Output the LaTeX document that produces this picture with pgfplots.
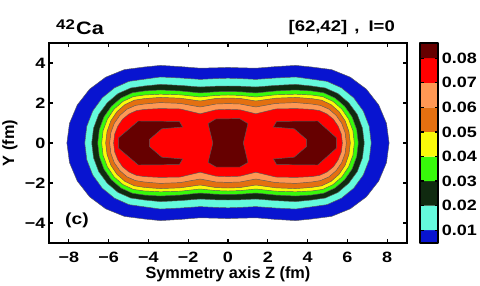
\documentclass[border=0pt]{standalone}
\usepackage{pgfplots}
\pgfplotsset{compat=1.18}
\usepackage{fontspec}
\setmainfont{Liberation Sans}[FakeStretch=1.2]
\newfontfamily\labelfont{Liberation Sans}
\definecolor{cblue}{RGB}{8,20,208}
\definecolor{ccyan}{RGB}{100,250,220}
\definecolor{cdkgreen}{RGB}{16,42,16}
\definecolor{cgreen}{RGB}{55,250,10}
\definecolor{cyellow}{RGB}{250,250,10}
\definecolor{corange}{RGB}{228,112,16}
\definecolor{clorange}{RGB}{255,152,84}
\definecolor{cred}{RGB}{255,0,0}
\definecolor{cdkred}{RGB}{102,0,0}
\begin{document}
\begin{tikzpicture}
\useasboundingbox (0bp,0bp) rectangle (480bp,286bp);
\begin{axis}[
  at={(49bp,43bp)}, anchor=south west, scale only axis,
  width=358bp, height=200bp,
  xmin=-9, xmax=9, ymin=-5, ymax=5,
  axis on top, no markers,
  xtick={-8,-6,-4,-2,0,2,4,6,8},
  xticklabels={−8,−6,−4,−2,0,2,4,6,8},
  ytick={-4,-2,0,2,4},
  yticklabels={−4,−2,0,2,4},
  tick align=inside,
  major tick length=4bp,
  tick style={black, line width=1.1bp},
  axis line style={line width=1.8bp},
  tick label style={font=\fontsize{15bp}{18bp}\selectfont\bfseries, inner sep=0pt},
  xticklabel style={yshift=-9.3bp},
  yticklabel style={xshift=-3.3bp},
  xlabel={Symmetry axis Z (fm)},
  ylabel={Y (fm)},
  label style={font=\labelfont\fontsize{16.3bp}{19bp}\selectfont\bfseries, inner sep=0pt},
  xlabel style={at={(axis description cs:0.5,-0.1775)}, anchor=base},
  ylabel style={at={(axis description cs:-0.109,0.5)}, anchor=center},
  every axis plot/.append style={draw=black!65, line width=0.45bp},
]
% level 1 (outer edge of blue)
\addplot[fill=cblue] coordinates {
(-8.10,0) (-7.97,0.98) (-7.58,1.90) (-6.96,2.69) (-6.15,3.29) (-5.21,3.67) (-4.20,3.80) (-3.40,3.88) (-2.40,3.82) (-1.40,3.74) (-0.60,3.76) (0,3.78)
(0.60,3.76) (1.40,3.74) (2.40,3.82) (3.40,3.88) (4.20,3.80) (5.21,3.67) (6.15,3.29) (6.96,2.69) (7.58,1.90) (7.97,0.98) (8.10,0)
(7.97,-0.98) (7.58,-1.90) (6.96,-2.69) (6.15,-3.29) (5.21,-3.67) (4.20,-3.80) (3.40,-3.88) (2.40,-3.82) (1.40,-3.74) (0.60,-3.76) (0,-3.78)
(-0.60,-3.76) (-1.40,-3.74) (-2.40,-3.82) (-3.40,-3.88) (-4.20,-3.80) (-5.21,-3.67) (-6.15,-3.29) (-6.96,-2.69) (-7.58,-1.90) (-7.97,-0.98) (-8.10,0)};
% level 2
\addplot[fill=ccyan] coordinates {
(-7.20,0) (-7.10,0.83) (-6.80,1.60) (-6.32,2.26) (-5.70,2.76) (-4.98,3.08) (-4.20,3.19) (-3.40,3.30) (-2.40,3.25) (-1.40,3.18) (-0.60,3.22) (0,3.24)
(0.60,3.22) (1.40,3.18) (2.40,3.25) (3.40,3.30) (4.20,3.19) (4.98,3.08) (5.70,2.76) (6.32,2.26) (6.80,1.60) (7.10,0.83) (7.20,0)
(7.10,-0.83) (6.80,-1.60) (6.32,-2.26) (5.70,-2.76) (4.98,-3.08) (4.20,-3.19) (3.40,-3.30) (2.40,-3.25) (1.40,-3.18) (0.60,-3.22) (0,-3.24)
(-0.60,-3.22) (-1.40,-3.18) (-2.40,-3.25) (-3.40,-3.30) (-4.20,-3.19) (-4.98,-3.08) (-5.70,-2.76) (-6.32,-2.26) (-6.80,-1.60) (-7.10,-0.83) (-7.20,0)};
% level 3
\addplot[fill=cdkgreen] coordinates {
(-6.85,0) (-6.76,0.74) (-6.50,1.43) (-6.07,2.01) (-5.53,2.47) (-4.89,2.75) (-4.20,2.85) (-3.40,2.93) (-2.40,2.88) (-1.40,2.80) (-0.60,2.84) (0,2.85)
(0.60,2.84) (1.40,2.80) (2.40,2.88) (3.40,2.93) (4.20,2.85) (4.89,2.75) (5.53,2.47) (6.07,2.01) (6.50,1.43) (6.76,0.74) (6.85,0)
(6.76,-0.74) (6.50,-1.43) (6.07,-2.01) (5.53,-2.47) (4.89,-2.75) (4.20,-2.85) (3.40,-2.93) (2.40,-2.88) (1.40,-2.80) (0.60,-2.84) (0,-2.85)
(-0.60,-2.84) (-1.40,-2.80) (-2.40,-2.88) (-3.40,-2.93) (-4.20,-2.85) (-4.89,-2.75) (-5.53,-2.47) (-6.07,-2.01) (-6.50,-1.43) (-6.76,-0.74) (-6.85,0)};
% level 4
\addplot[fill=cgreen] coordinates {
(-6.55,0) (-6.47,0.67) (-6.24,1.30) (-5.86,1.84) (-5.38,2.25) (-4.81,2.51) (-4.20,2.60) (-3.40,2.65) (-2.40,2.60) (-1.40,2.50) (-0.60,2.56) (0,2.57)
(0.60,2.56) (1.40,2.50) (2.40,2.60) (3.40,2.65) (4.20,2.60) (4.81,2.51) (5.38,2.25) (5.86,1.84) (6.24,1.30) (6.47,0.67) (6.55,0)
(6.47,-0.67) (6.24,-1.30) (5.86,-1.84) (5.38,-2.25) (4.81,-2.51) (4.20,-2.60) (3.40,-2.65) (2.40,-2.60) (1.40,-2.50) (0.60,-2.56) (0,-2.57)
(-0.60,-2.56) (-1.40,-2.50) (-2.40,-2.60) (-3.40,-2.65) (-4.20,-2.60) (-4.81,-2.51) (-5.38,-2.25) (-5.86,-1.84) (-6.24,-1.30) (-6.47,-0.67) (-6.55,0)};
% level 5
\addplot[fill=cyellow] coordinates {
(-6.35,0) (-6.28,0.62) (-6.06,1.20) (-5.72,1.70) (-5.28,2.08) (-4.76,2.32) (-4.20,2.40) (-3.40,2.44) (-2.40,2.41) (-1.40,2.30) (-0.60,2.38) (0,2.40)
(0.60,2.38) (1.40,2.30) (2.40,2.41) (3.40,2.44) (4.20,2.40) (4.76,2.32) (5.28,2.08) (5.72,1.70) (6.06,1.20) (6.28,0.62) (6.35,0)
(6.28,-0.62) (6.06,-1.20) (5.72,-1.70) (5.28,-2.08) (4.76,-2.32) (4.20,-2.40) (3.40,-2.44) (2.40,-2.41) (1.40,-2.30) (0.60,-2.38) (0,-2.40)
(-0.60,-2.38) (-1.40,-2.30) (-2.40,-2.41) (-3.40,-2.44) (-4.20,-2.40) (-4.76,-2.32) (-5.28,-2.08) (-5.72,-1.70) (-6.06,-1.20) (-6.28,-0.62) (-6.35,0)};
% level 6
\addplot[fill=corange] coordinates {
(-6.15,0) (-6.08,0.57) (-5.89,1.11) (-5.58,1.57) (-5.18,1.92) (-4.71,2.14) (-4.20,2.22) (-3.40,2.28) (-2.40,2.24) (-1.40,2.10) (-0.60,2.23) (0,2.25)
(0.60,2.23) (1.40,2.10) (2.40,2.24) (3.40,2.28) (4.20,2.22) (4.71,2.14) (5.18,1.92) (5.58,1.57) (5.89,1.11) (6.08,0.57) (6.15,0)
(6.08,-0.57) (5.89,-1.11) (5.58,-1.57) (5.18,-1.92) (4.71,-2.14) (4.20,-2.22) (3.40,-2.28) (2.40,-2.24) (1.40,-2.10) (0.60,-2.23) (0,-2.25)
(-0.60,-2.23) (-1.40,-2.10) (-2.40,-2.24) (-3.40,-2.28) (-4.20,-2.22) (-4.71,-2.14) (-5.18,-1.92) (-5.58,-1.57) (-5.89,-1.11) (-6.08,-0.57) (-6.15,0)};
% level 7
\addplot[fill=clorange] coordinates {
(-5.95,0) (-5.89,0.51) (-5.72,0.98) (-5.44,1.38) (-5.08,1.69) (-4.65,1.88) (-4.20,1.95) (-3.40,2.02) (-2.40,1.98) (-1.40,1.80) (-0.60,1.95) (0,1.97)
(0.60,1.95) (1.40,1.80) (2.40,1.98) (3.40,2.02) (4.20,1.95) (4.65,1.88) (5.08,1.69) (5.44,1.38) (5.72,0.98) (5.89,0.51) (5.95,0)
(5.89,-0.51) (5.72,-0.98) (5.44,-1.38) (5.08,-1.69) (4.65,-1.88) (4.20,-1.95) (3.40,-2.02) (2.40,-1.98) (1.40,-1.80) (0.60,-1.95) (0,-1.97)
(-0.60,-1.95) (-1.40,-1.80) (-2.40,-1.98) (-3.40,-2.02) (-4.20,-1.95) (-4.65,-1.88) (-5.08,-1.69) (-5.44,-1.38) (-5.72,-0.98) (-5.89,-0.51) (-5.95,0)};
% level 8
\addplot[fill=cred] coordinates {
(-5.75,0) (-5.70,0.44) (-5.54,0.84) (-5.30,1.19) (-4.98,1.45) (-4.60,1.62) (-4.20,1.68) (-3.40,1.72) (-2.40,1.70) (-1.40,1.46) (-0.60,1.66) (0,1.68)
(0.60,1.66) (1.40,1.46) (2.40,1.70) (3.40,1.72) (4.20,1.68) (4.60,1.62) (4.98,1.45) (5.30,1.19) (5.54,0.84) (5.70,0.44) (5.75,0)
(5.70,-0.44) (5.54,-0.84) (5.30,-1.19) (4.98,-1.45) (4.60,-1.62) (4.20,-1.68) (3.40,-1.72) (2.40,-1.70) (1.40,-1.46) (0.60,-1.66) (0,-1.68)
(-0.60,-1.66) (-1.40,-1.46) (-2.40,-1.70) (-3.40,-1.72) (-4.20,-1.68) (-4.60,-1.62) (-4.98,-1.45) (-5.30,-1.19) (-5.54,-0.84) (-5.70,-0.44) (-5.75,0)};
% level 9: three maxima
\addplot[fill=cdkred] coordinates {
(-5.50,0.26) (-4.51,1.10) (-2.45,1.08) (-2.28,0.80) (-3.33,0.71) (-3.95,0.18) (-3.95,-0.18) (-3.33,-0.71) (-2.28,-0.80) (-2.45,-1.08) (-4.51,-1.10) (-5.50,-0.26) (-5.50,0.26)};
\addplot[fill=cdkred] coordinates {
(5.45,0.26) (4.51,1.10) (2.45,1.08) (2.28,0.80) (3.33,0.71) (3.95,0.18) (3.95,-0.18) (3.33,-0.71) (2.28,-0.80) (2.45,-1.08) (4.51,-1.10) (5.45,-0.26) (5.45,0.26)};
\addplot[fill=cdkred] coordinates {
(-1.00,0.97) (-0.62,1.20) (0.58,1.22) (1.00,0.97) (0.77,0) (1.00,-0.97) (0.60,-1.20) (-0.60,-1.20) (-1.00,-0.97) (-0.76,0) (-1.00,0.97)};
\end{axis}
% colour bar
\begin{axis}[
  at={(420bp,43bp)}, anchor=south west, scale only axis,
  width=18bp, height=200bp,
  xmin=0, xmax=1, ymin=0.0048, ymax=0.0862,
  axis on top, no markers, scaled y ticks=false,
  xtick=\empty,
  ytick={0.01,0.02,0.03,0.04,0.05,0.06,0.07,0.08},
  yticklabels={0.01,0.02,0.03,0.04,0.05,0.06,0.07,0.08},
  yticklabel pos=right, ytick pos=both,
  tick align=inside, major tick length=3.5bp,
  tick style={black, line width=1.4bp},
  axis line style={line width=2.5bp, line join=round},
  tick label style={font=\fontsize{15bp}{18bp}\selectfont\bfseries, inner sep=0pt},
  yticklabel style={xshift=3.7bp},
  every axis plot/.append style={draw=none},
]
\addplot[fill=cblue] coordinates {(0,0.0048) (1,0.0048) (1,0.01) (0,0.01) (0,0.0048)};
\addplot[fill=ccyan] coordinates {(0,0.01) (1,0.01) (1,0.02) (0,0.02) (0,0.01)};
\addplot[fill=cdkgreen] coordinates {(0,0.02) (1,0.02) (1,0.03) (0,0.03) (0,0.02)};
\addplot[fill=cgreen] coordinates {(0,0.03) (1,0.03) (1,0.04) (0,0.04) (0,0.03)};
\addplot[fill=cyellow] coordinates {(0,0.04) (1,0.04) (1,0.05) (0,0.05) (0,0.04)};
\addplot[fill=corange] coordinates {(0,0.05) (1,0.05) (1,0.06) (0,0.06) (0,0.05)};
\addplot[fill=clorange] coordinates {(0,0.06) (1,0.06) (1,0.07) (0,0.07) (0,0.06)};
\addplot[fill=cred] coordinates {(0,0.07) (1,0.07) (1,0.08) (0,0.08) (0,0.07)};
\addplot[fill=cdkred] coordinates {(0,0.08) (1,0.08) (1,0.0862) (0,0.0862) (0,0.08)};
\end{axis}
% titles
\node[anchor=base west, inner sep=0pt, font=\fontsize{14bp}{16bp}\selectfont\bfseries] at (56bp,256.7bp) {42};
\node[anchor=base west, inner sep=0pt, font=\fontsize{18bp}{21bp}\selectfont\bfseries] at (76bp,251bp) {Ca};
\node[anchor=base east, inner sep=0pt, font=\fontsize{15.4bp}{18bp}\selectfont\bfseries] at (395bp,254.3bp) {[62,42]\hspace{2bp} ,\hspace{4bp} I=0};
\node[anchor=base west, inner sep=0pt, font=\fontsize{16bp}{19bp}\selectfont\bfseries] at (65bp,61bp) {(c)};
\end{tikzpicture}
\end{document}
